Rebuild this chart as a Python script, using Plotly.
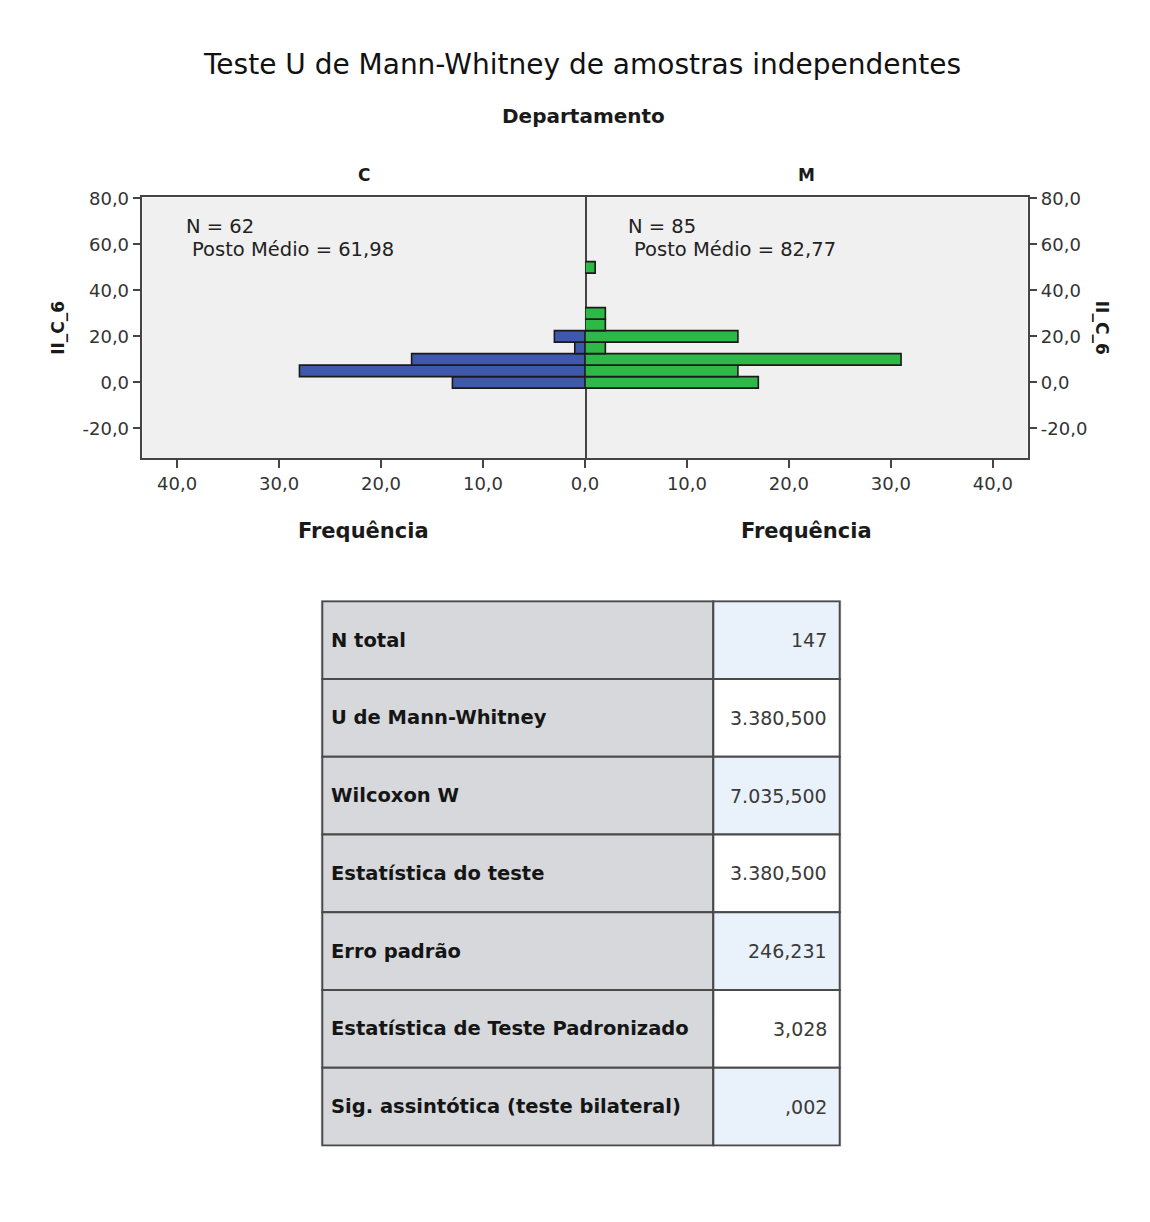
import plotly.graph_objects as go

# ---------------- data ----------------
bin_centers = [0, 5, 10, 15, 20, 25, 30, 35, 40, 45, 50]
freq_C = [13, 28, 17, 1, 3, 0, 0, 0, 0, 0, 0]
freq_M = [17, 15, 31, 2, 15, 2, 2, 0, 0, 0, 1]
bin_width = 5

y_ticks = [-20, 0, 20, 40, 60, 80]
y_ticktext = ["-20,0", "0,0", "20,0", "40,0", "60,0", "80,0"]
x_left_ticks = [40, 30, 20, 10]
x_left_ticktext = ["40,0", "30,0", "20,0", "10,0"]
x_right_ticks = [0, 10, 20, 30, 40]
x_right_ticktext = ["0,0", "10,0", "20,0", "30,0", "40,0"]

groups = ["C", "M"]
group_n = ["N = 62", "N = 85"]
group_rank = ["Posto Médio = 61,98", "Posto Médio = 82,77"]

table_labels = ["N total", "U de Mann-Whitney", "Wilcoxon W", "Estatística do teste",
                "Erro padrão", "Estatística de Teste Padronizado",
                "Sig. assintótica (teste bilateral)"]
table_values = ["147", "3.380,500", "7.035,500", "3.380,500", "246,231", "3,028", ",002"]

# ---------------- styling ----------------
W, H = 1150, 1222
FONT = "DejaVu Sans"
COL_C = "#3E58AC"
COL_M = "#2EB848"
EDGE = "#1a1a1a"
AX = "#444444"


def px(x):
    return x / W


def py(y):
    return 1 - y / H


def nonzero(centers, freqs):
    pairs = [(c, f) for c, f in zip(centers, freqs) if f > 0]
    return [p[0] for p in pairs], [p[1] for p in pairs]


plot_top, plot_bot = 189, 452
left_x0, mid_x, right_x1 = 130, 578, 1026
yr = [-33.0, 80.4]
xmax = 43.4

fig = go.Figure()

yc, xc = nonzero(bin_centers, freq_C)
ym, xm = nonzero(bin_centers, freq_M)
fig.add_trace(go.Bar(
    y=yc, x=xc, orientation="h", width=bin_width,
    marker=dict(color=COL_C, line=dict(color=EDGE, width=1.6)),
    xaxis="x", yaxis="y", hoverinfo="skip"))
fig.add_trace(go.Bar(
    y=ym, x=xm, orientation="h", width=bin_width,
    marker=dict(color=COL_M, line=dict(color=EDGE, width=1.6)),
    xaxis="x2", yaxis="y2", hoverinfo="skip"))

# ---------------- table (as bars on its own axes) ----------------
split = 399 / 528
n_rows = len(table_labels)
rows = list(range(n_rows))
value_fill = ["#E9F2FB" if i % 2 == 0 else "#FFFFFF" for i in rows]
fig.add_trace(go.Bar(
    y=rows, x=[split] * n_rows, base=[0] * n_rows, orientation="h", width=1,
    marker=dict(color="#D6D8DB", line=dict(color="#4a4a4a", width=2)),
    xaxis="x3", yaxis="y3", hoverinfo="skip"))
fig.add_trace(go.Bar(
    y=rows, x=[1 - split] * n_rows, base=[split] * n_rows, orientation="h", width=1,
    marker=dict(color=value_fill, line=dict(color="#4a4a4a", width=2)),
    xaxis="x3", yaxis="y3", hoverinfo="skip"))

annotations = []
for i, (lab, val) in enumerate(zip(table_labels, table_values)):
    annotations.append(dict(x=0, y=i, xref="x3", yref="y3", xanchor="left", yanchor="middle",
                            xshift=7, text="<b>" + lab + "</b>", showarrow=False,
                            font=dict(family=FONT, size=19.5, color="#151515")))
    annotations.append(dict(x=1, y=i, xref="x3", yref="y3", xanchor="right", yanchor="middle",
                            xshift=-11, text=val, showarrow=False,
                            font=dict(family=FONT, size=19, color="#3a3a3a")))

# titles & labels
annotations += [
    dict(x=0.5, y=py(55), xref="paper", yref="paper", text="Teste U de Mann-Whitney de amostras independentes",
         showarrow=False, xanchor="center", yanchor="middle", font=dict(family=FONT, size=28, color="#111111")),
    dict(x=px(577), y=py(107), xref="paper", yref="paper", text="<b>Departamento</b>",
         showarrow=False, xanchor="center", yanchor="middle", font=dict(family=FONT, size=20, color="#1a1a1a")),
    dict(x=px(45), y=py(320), xref="paper", yref="paper", text="<b>II_C_6</b>", textangle=-90,
         showarrow=False, xanchor="center", yanchor="middle", font=dict(family=FONT, size=17, color="#1a1a1a")),
    dict(x=px(1101), y=py(320), xref="paper", yref="paper", text="<b>II_C_6</b>", textangle=90,
         showarrow=False, xanchor="center", yanchor="middle", font=dict(family=FONT, size=17, color="#1a1a1a")),
]
centers = [(left_x0 + mid_x) / 2, (mid_x + right_x1) / 2]
n_x = [172, 620]
for g, cx, nx, nt, rt in zip(groups, centers, n_x, group_n, group_rank):
    annotations.append(dict(x=px(cx), y=py(166), xref="paper", yref="paper", text="<b>" + g + "</b>",
                            showarrow=False, xanchor="center", yanchor="middle",
                            font=dict(family=FONT, size=17, color="#1a1a1a")))
    annotations.append(dict(x=px(cx), y=py(525), xref="paper", yref="paper", text="<b>Frequência</b>",
                            showarrow=False, xanchor="center", yanchor="middle",
                            font=dict(family=FONT, size=21, color="#1a1a1a")))
    annotations.append(dict(x=px(nx), y=py(218), xref="paper", yref="paper", text=nt,
                            showarrow=False, xanchor="left", yanchor="middle",
                            font=dict(family=FONT, size=19.5, color="#222222")))
    annotations.append(dict(x=px(nx + 6), y=py(241), xref="paper", yref="paper", text=rt,
                            showarrow=False, xanchor="left", yanchor="middle",
                            font=dict(family=FONT, size=19.5, color="#222222")))

tickfont = dict(family=FONT, size=18, color="#333333")
common_axis = dict(showgrid=False, zeroline=False, showline=True, linecolor=AX, linewidth=1.5,
                   ticks="outside", ticklen=8, tickwidth=1.5, tickcolor=AX,
                   tickfont=tickfont, fixedrange=True)

fig.update_layout(
    width=W, height=H, margin=dict(l=0, r=0, t=0, b=0),
    paper_bgcolor="white", plot_bgcolor="#F0F0F0",
    showlegend=False, barmode="overlay",
    xaxis=dict(domain=[px(left_x0), px(mid_x)], range=[xmax, 0], anchor="y", mirror=True,
               tickvals=x_left_ticks, ticktext=x_left_ticktext, **common_axis),
    yaxis=dict(domain=[py(plot_bot), py(plot_top)], range=yr, anchor="x", mirror=True,
               tickvals=y_ticks, ticktext=y_ticktext, **common_axis),
    xaxis2=dict(domain=[px(mid_x), px(right_x1)], range=[0, xmax], anchor="y2", mirror=True,
                tickvals=x_right_ticks, ticktext=x_right_ticktext, **common_axis),
    yaxis2=dict(domain=[py(plot_bot), py(plot_top)], range=yr, anchor="x2", side="right", mirror=False,
                tickvals=y_ticks, ticktext=y_ticktext, **common_axis),
    xaxis3=dict(domain=[px(310), px(838)], range=[-0.004, 1.004], anchor="y3",
                visible=False, fixedrange=True),
    yaxis3=dict(domain=[py(1146), py(595)], range=[n_rows - 0.5 + 0.015, -0.5 - 0.015], anchor="x3",
                visible=False, fixedrange=True),
    annotations=annotations,
)

fig.write_html("out.html", config={"displayModeBar": False},
               post_script="document.body.style.margin='0';document.body.style.overflow='hidden';")
